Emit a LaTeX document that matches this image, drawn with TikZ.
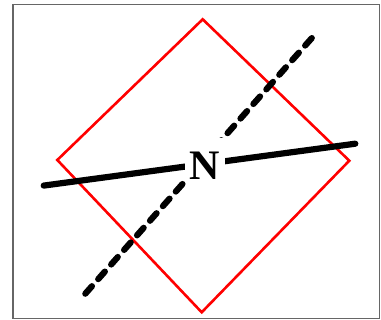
\documentclass[tikz,border=0pt]{standalone}
\usepackage{fontspec}
\setmainfont{Liberation Serif}
\begin{document}
\begin{tikzpicture}[x=1pt,y=-1pt,
  framebox/.style={draw=black!60, line width=1.2pt},
  diamondline/.style={draw=red, line width=2.6pt, line join=miter},
  solidline/.style={line width=6.2pt, line cap=round},
  dashline/.style={line width=6.2pt, line cap=round, dash pattern=on 10pt off 9.5pt},
  nlabel/.style={fill=white, inner xsep=4.5pt, inner ysep=0pt, text height=41pt, text depth=3pt, font=\fontsize{42}{42}\selectfont\bfseries}]
\useasboundingbox (0,0) rectangle (381,320);
\draw[framebox] (13,4.5) rectangle (379.5,318.3);
\coordinate (dt) at (202.7,19.3);
\coordinate (dr) at (349.3,160.7);
\coordinate (db) at (201.7,312.3);
\coordinate (dl) at (57.3,160);
\draw[diamondline] (dt) -- (dr) -- (db) -- (dl) -- cycle;
\coordinate (s1) at (43.7,185.6);
\coordinate (s2) at (355.3,143.7);
\coordinate (d1) at (85.3,293.7);
\coordinate (d2) at (316.3,33);
\draw[solidline] (s1) -- (s2);
\draw[dashline] (d1) -- (d2);
\node[nlabel, anchor=base] (N) at (205,179.3) {N};
\end{tikzpicture}
\end{document}
